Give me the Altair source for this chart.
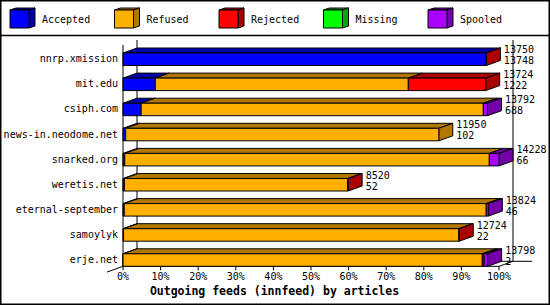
import altair as alt
import pandas as pd

# ---------------- data ----------------
hosts = ["nnrp.xmission", "mit.edu", "csiph.com", "news-in.neodome.net",
         "snarked.org", "weretis.net", "eternal-september", "samoylyk", "erje.net"]
accepted = [13748, 1222, 688, 102, 66, 52, 46, 22, 2]
refused = [0, 9574, 12946, 11848, 13795, 8448, 13698, 12687, 13594]
rejected = [2, 2928, 0, 0, 0, 20, 0, 15, 70]
missing = [0, 0, 0, 0, 0, 0, 0, 0, 0]
spooled = [0, 0, 158, 0, 367, 0, 80, 0, 132]
categories = ["Accepted", "Refused", "Rejected", "Missing", "Spooled"]
tick_values = [0, 10, 20, 30, 40, 50, 60, 70, 80, 90, 100]
tick_labels = ["0%", "10%", "20%", "30%", "40%", "50%", "60%", "70%", "80%", "90%", "100%"]
title_text = "Outgoing feeds (innfeed) by articles"

# ---------------- styles ----------------
front_col = {"Accepted": "#0000FF", "Refused": "#FFAF00", "Rejected": "#FF0000",
             "Missing": "#00FF00", "Spooled": "#AA00FF"}
dark_col = {"Accepted": "#0000AA", "Refused": "#B07800", "Rejected": "#AA0000",
            "Missing": "#00AA00", "Spooled": "#7500AA"}
FONT = "DejaVu Sans Mono"

# ---------------- layout (pixels) ----------------
W, H = 550, 305
X0, PXP = 123.0, 3.76          # pixel of 0 %, pixels per percent
Y0, PITCH = 53.0, 25.1         # pixel top of first bar front, row pitch
BAR_H = 12.5
DXP, DYP = 14.0, 5.0           # 3D depth offset


def px2x(p):
    return (p - X0) / PXP


def px2y(p):
    return (p - Y0) / PITCH


DX = DXP / PXP
DY = DYP / PITCH
BH = BAR_H / PITCH

series = list(zip(accepted, refused, rejected, missing, spooled))
totals = [sum(s) for s in series]
vmax = max(totals)

rects, polys, nums = [], [], []
pid = 0


def add_poly(pts, fill):
    global pid
    pts = pts + [pts[0]]
    for k, (x, y) in enumerate(pts):
        polys.append({"pid": pid, "o": k, "x": x, "y": y, "fill": fill})
    pid += 1


for i, (h, segs) in enumerate(zip(hosts, series)):
    cum = 0.0
    last = None
    for cat, v in zip(categories, segs):
        if v <= 0:
            continue
        a = cum / vmax * 100
        cum += v
        b = cum / vmax * 100
        rects.append({"x": a, "x2": b, "y": i, "y2": i + BH, "fill": front_col[cat]})
        add_poly([(a, i), (b, i), (b + DX, i - DY), (a + DX, i - DY)], dark_col[cat])
        last = cat
    e = cum / vmax * 100
    add_poly([(e, i), (e + DX, i - DY), (e + DX, i - DY + BH), (e, i + BH)], dark_col[last])
    tx = e + DX + 3.5 / PXP
    nums.append({"x": tx, "y": i - 3 / PITCH, "t": str(totals[i])})
    nums.append({"x": tx, "y": i + 8 / PITCH, "t": str(accepted[i])})

# legend cubes
leg_labels = []
for k, cat in enumerate(categories):
    lx0, lx1 = 10 + 104.5 * k, 29 + 104.5 * k
    ly0, ly1 = 10.0, 28.0
    ldx, ldy = 6.0, 2.0
    rects.append({"x": px2x(lx0), "x2": px2x(lx1), "y": px2y(ly0), "y2": px2y(ly1),
                  "fill": front_col[cat]})
    add_poly([(px2x(lx0), px2y(ly0)), (px2x(lx1), px2y(ly0)),
              (px2x(lx1 + ldx), px2y(ly0 - ldy)), (px2x(lx0 + ldx), px2y(ly0 - ldy))],
             dark_col[cat])
    add_poly([(px2x(lx1), px2y(ly0)), (px2x(lx1 + ldx), px2y(ly0 - ldy)),
              (px2x(lx1 + ldx), px2y(ly1 - ldy)), (px2x(lx1), px2y(ly1))],
             dark_col[cat])
    leg_labels.append({"x": px2x(42 + 104.5 * k), "y": px2y(20), "t": cat})

n = len(hosts)
yb = (n - 1) + BH              # front floor line
ytop = px2y(45)
frame_lines = pd.DataFrame([
    {"x": 0, "x2": 0, "y": ytop, "y2": yb},
    {"x": DX, "x2": DX, "y": ytop - DY, "y2": yb - DY},
    {"x": 100 + DX, "x2": 100 + DX, "y": ytop - DY, "y2": yb - DY},
    {"x": DX, "x2": px2x(532), "y": yb - DY, "y2": yb - DY},
    {"x": DX, "x2": px2x(107), "y": yb - DY, "y2": yb + 1.15 * DY},
    {"x": 100 + DX, "x2": 100, "y": yb - DY, "y2": yb},
    {"x": 0, "x2": 100, "y": yb, "y2": yb},
])

ticks_df = pd.DataFrame({"x": tick_values, "y": yb, "y2": yb + 4 / PITCH,
                         "ty": yb + 11 / PITCH, "t": tick_labels})
labels_df = pd.DataFrame({"x": px2x(118), "y": [i + BH / 2 for i in range(n)], "t": hosts})

xs = alt.Scale(domain=[px2x(0), px2x(W)], nice=False, zero=False)
ys = alt.Scale(domain=[px2y(0), px2y(H)], reverse=True, nice=False, zero=False)
X = lambda f="x": alt.X(f"{f}:Q", scale=xs, axis=None)
Y = lambda f="y": alt.Y(f"{f}:Q", scale=ys, axis=None)

border = alt.Chart(pd.DataFrame({"a": [0]})).mark_rect(
    fill="white", stroke="black", strokeWidth=1.5).encode(
    x=alt.value(0.75), x2=alt.value(W - 0.75), y=alt.value(0.75), y2=alt.value(H - 0.75))
sep = alt.Chart(pd.DataFrame({"a": [0]})).mark_rule(color="black", strokeWidth=1.5).encode(
    x=alt.value(0), x2=alt.value(W), y=alt.value(35.5))

frame = alt.Chart(frame_lines).mark_rule(color="black", strokeWidth=1).encode(
    x=X(), x2="x2:Q", y=Y(), y2="y2:Q")
ticks = alt.Chart(ticks_df).mark_rule(color="black", strokeWidth=1).encode(
    x=X(), y=Y(), y2="y2:Q")
tick_txt = alt.Chart(ticks_df).mark_text(font=FONT, fontSize=10, color="black",
                                         baseline="middle").encode(
    x=X(), y=Y("ty"), text="t:N")

faces = alt.Chart(pd.DataFrame(polys)).mark_line(
    filled=True, stroke="black", strokeWidth=1, strokeJoin="miter").encode(
    x=X(), y=Y(), order="o:Q", detail="pid:N", fill=alt.Fill("fill:N", scale=None))
fronts = alt.Chart(pd.DataFrame(rects)).mark_rect(stroke="black", strokeWidth=1).encode(
    x=X(), x2="x2:Q", y=Y(), y2="y2:Q", fill=alt.Fill("fill:N", scale=None))

row_txt = alt.Chart(labels_df).mark_text(font=FONT, fontSize=10, color="black",
                                         align="right", baseline="middle").encode(
    x=X(), y=Y(), text="t:N")
num_txt = alt.Chart(pd.DataFrame(nums)).mark_text(font=FONT, fontSize=10, color="black",
                                                  align="left", baseline="middle").encode(
    x=X(), y=Y(), text="t:N")
leg_txt = alt.Chart(pd.DataFrame(leg_labels)).mark_text(font=FONT, fontSize=10, color="black",
                                                        align="left", baseline="middle").encode(
    x=X(), y=Y(), text="t:N")
title = alt.Chart(pd.DataFrame({"x": [px2x(274.5)], "y": [px2y(292)], "t": [title_text]})).mark_text(
    font=FONT, fontSize=11.5, fontWeight="bold", color="black", baseline="middle").encode(
    x=X(), y=Y(), text="t:N")

chart = alt.layer(border, sep, frame, faces, fronts, ticks, tick_txt, row_txt, num_txt,
                  leg_txt, title).properties(
    width=W, height=H, padding=0, autosize=alt.AutoSizeParams(type="none"),
    background="white").configure_view(stroke=None)

chart.save("out.html", embed_options={"renderer": "svg", "actions": False})
